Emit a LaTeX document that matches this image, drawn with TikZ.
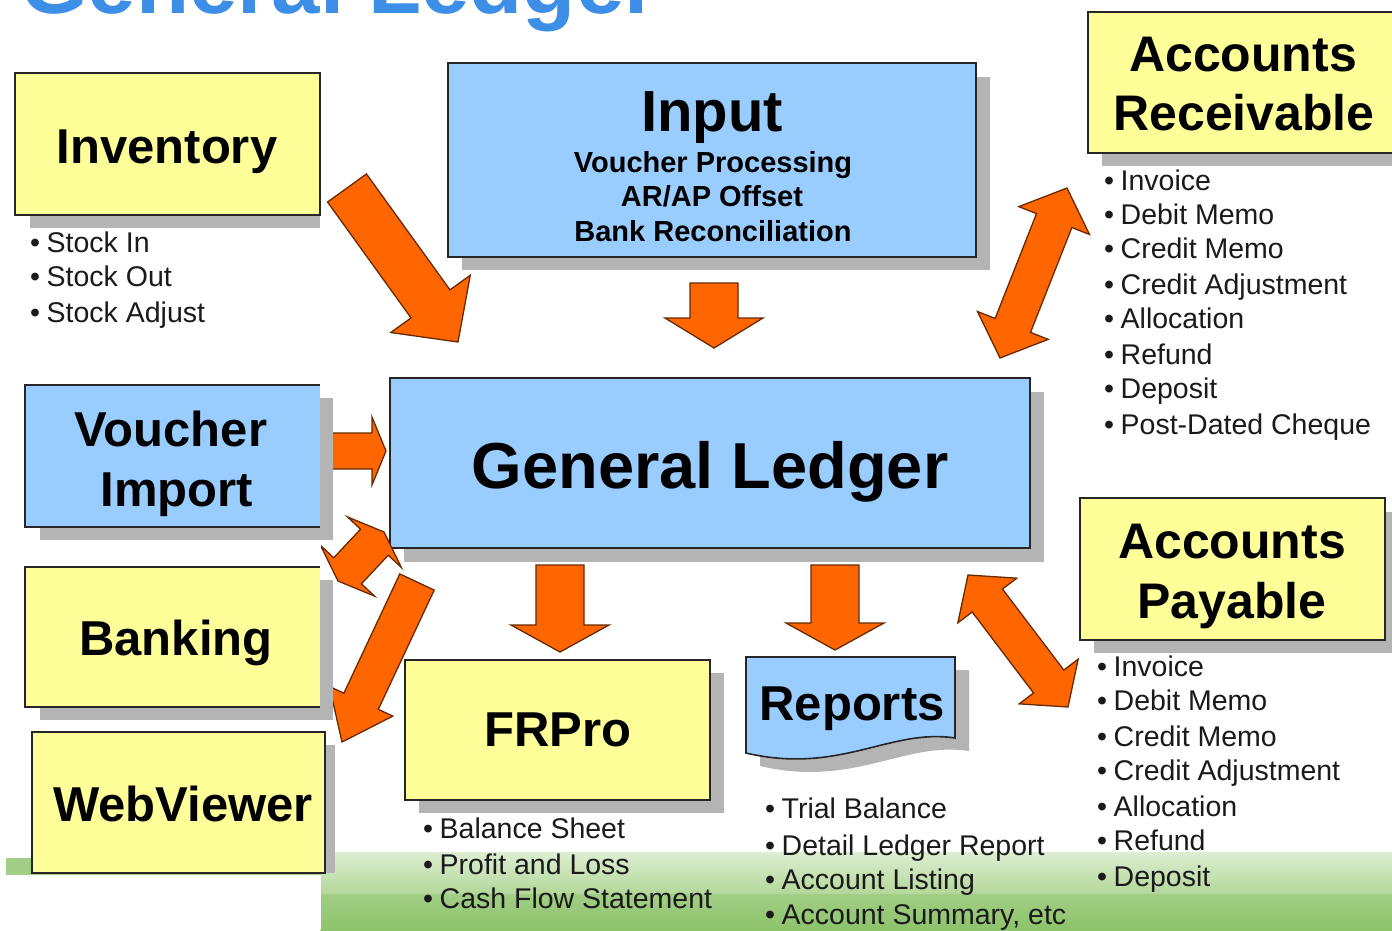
\documentclass[tikz,border=0pt]{standalone}
\usepackage{fontspec}
\setmainfont{Liberation Sans}
\usetikzlibrary{calc}
\definecolor{ylw}{HTML}{FFFF99}
\definecolor{blu}{HTML}{99CCFF}
\definecolor{org}{HTML}{FF6600}
\definecolor{shd}{HTML}{B4B4B4}
\definecolor{ttl}{HTML}{3D8EE6}
\definecolor{grnA}{HTML}{DDEED2}
\definecolor{grnB}{HTML}{B3D79A}
\definecolor{grnC}{HTML}{A2CE85}
\definecolor{grnD}{HTML}{8DC36B}
\definecolor{txt}{HTML}{1A1A1A}
\tikzset{
  boxline/.style={draw=black!85, line width=1.6pt},
  ybox/.style={boxline, fill=ylw, inner sep=0pt},
  bbox/.style={boxline, fill=blu, inner sep=0pt},
  yfill/.style={fill=ylw, draw=none, inner sep=0pt},
  bfill/.style={fill=blu, draw=none, inner sep=0pt},
  shadowfill/.style={fill=shd, draw=none},
  bigarrow/.style={fill=org, draw=black!60!org, line width=1.3pt, line join=miter},
  ttlA/.style={font=\fontsize{49}{49}\selectfont\bfseries, text=black, inner sep=0pt, anchor=base},
  item/.style={font=\fontsize{28.5}{28.5}\selectfont, text=txt, inner sep=0pt, anchor=base west},
}
\newcommand{\blockarr}[5]{%
  \coordinate (ba-h) at ($(#2)!#5!(#1)$);
  \draw[bigarrow] ($(#1)!#3!90:(#2)$) -- ($(ba-h)!#3!90:(#2)$) -- ($(ba-h)!#4!90:(#2)$) -- (#2)
    -- ($(ba-h)!#4!-90:(#2)$) -- ($(ba-h)!#3!-90:(#2)$) -- ($(#1)!#3!-90:(#2)$) -- cycle;}
\newcommand{\dblarr}[5]{%
  \coordinate (da-a) at ($(#1)!#5!(#2)$);
  \coordinate (da-b) at ($(#2)!#5!(#1)$);
  \draw[bigarrow] (#1) -- ($(da-a)!#4!90:(#2)$) -- ($(da-a)!#3!90:(#2)$) -- ($(da-b)!#3!90:(#2)$)
    -- ($(da-b)!#4!90:(#2)$) -- (#2) -- ($(da-b)!#4!-90:(#2)$) -- ($(da-b)!#3!-90:(#2)$)
    -- ($(da-a)!#3!-90:(#2)$) -- ($(da-a)!#4!-90:(#2)$) -- cycle;}
\newcommand{\bul}{•\hspace{6.5pt}}
\begin{document}
\begin{tikzpicture}[x=1pt,y=-1pt]
\useasboundingbox (0,0) rectangle (1392,930);
\fill[white] (0,0) rectangle (1392,930);
\clip (0,0) rectangle (1392,930);
% title (cut at top)
\node[font=\fontsize{87}{87}\selectfont\bfseries, text=ttl, inner sep=0pt, anchor=base west] (title) at (20,13) {General Ledger};
% green band (right part)
\shade[top color=grnA, bottom color=grnB] (320,852) rectangle (1392,894);
\shade[top color=grnC, bottom color=grnD] (320,894) rectangle (1392,930);
% ---- right part boxes
% Input
\fill[shadowfill] (462,77) rectangle (990,270);
\node[bbox, minimum width=528pt, minimum height=194pt] (input) at (712,160) {};
% General Ledger
\fill[shadowfill] (404,392) rectangle (1044,562);
\node[bbox, minimum width=640pt, minimum height=170pt] (gl) at (710,463) {};
% Accounts Receivable
\fill[shadowfill] (1102,26) rectangle (1400,166);
\node[ybox, minimum width=312pt, minimum height=141pt] (ar) at (1244,82.5) {};
% Accounts Payable
\fill[shadowfill] (1094,512) rectangle (1399,653);
\node[ybox, minimum width=305pt, minimum height=142pt] (ap) at (1232.5,569) {};
% FRPro
\fill[shadowfill] (419,673) rectangle (724,813);
\node[ybox, minimum width=305pt, minimum height=140pt] (fr) at (557.5,730) {};
% Reports (document shape)
\fill[shadowfill] (760,670) -- (969,670) -- (969,751) .. controls (904,741) and (854,788) .. (760,766) -- cycle;
\draw[boxline, fill=blu] (746,657) -- (955,657) -- (955,738) .. controls (890,728) and (840,775) .. (746,753) -- cycle;
\node[inner sep=0pt] (rep) at (850,700) {};
% ---- arrows
\coordinate (a1t) at (347,188);  \coordinate (a1h) at (458,342);
\coordinate (a2t) at (714,283);  \coordinate (a2h) at (714,348);
\coordinate (a3t) at (328,451);  \coordinate (a3h) at (386,451);
\coordinate (a4a) at (338,581);  \coordinate (a4b) at (384,532);
\coordinate (a5t) at (417,582);  \coordinate (a5h) at (342,742);
\coordinate (a6t) at (560,565);  \coordinate (a6h) at (560,652);
\coordinate (a7t) at (835,565);  \coordinate (a7h) at (835,650);
\coordinate (a8a) at (1000,358); \coordinate (a8b) at (1067,188);
\coordinate (a9a) at (968,575);  \coordinate (a9b) at (1068,707);
\blockarr{a1t}{a1h}{24pt}{49pt}{47pt}
\blockarr{a2t}{a2h}{24pt}{49pt}{30pt}
\blockarr{a3t}{a3h}{18pt}{34pt}{14pt}
\dblarr{a4a}{a4b}{19pt}{37pt}{14pt}
\blockarr{a5t}{a5h}{19pt}{35pt}{45pt}
\blockarr{a6t}{a6h}{24pt}{49pt}{27pt}
\blockarr{a7t}{a7h}{24pt}{49pt}{27pt}
\dblarr{a8a}{a8b}{19pt}{38pt}{35pt}
\dblarr{a9a}{a9b}{19pt}{37pt}{32pt}
% ---- left column (overlaid part)
\fill[white] (0,375) rectangle (321,930);
\fill[grnC] (6,858) rectangle (321,875);
% Inventory
\fill[shadowfill] (30,86) rectangle (320,228);
\node[ybox, minimum width=305pt, minimum height=142pt] (inv) at (167.5,144) {};
% Voucher Import
\fill[shadowfill] (40,398) rectangle (333,540);
\node[bfill, minimum width=295pt, minimum height=142pt] (vi) at (172.5,456) {};
\draw[boxline] (vi.north east) -- (vi.north west) -- (vi.south west) -- (vi.south east);
% Banking
\fill[shadowfill] (40,580) rectangle (333,720);
\node[yfill, minimum width=295pt, minimum height=140pt] (bk) at (172.5,637) {};
\draw[boxline] (bk.north east) -- (bk.north west) -- (bk.south west) -- (bk.south east);
% WebViewer
\fill[shadowfill] (47,745) rectangle (335,873);
\node[ybox, minimum width=293pt, minimum height=141pt] (wv) at (178.5,802.5) {};
% ---- titles
\node[ttlA] (tinv) at (167,163) {Inventory};
\node[ttlA, font=\fontsize{58}{58}\selectfont\bfseries] (tin) at (712,131) {Input};
\node[ttlA, font=\fontsize{29}{29}\selectfont\bfseries] (tin1) at (713,172) {Voucher Processing};
\node[ttlA, font=\fontsize{29}{29}\selectfont\bfseries] (tin2) at (712,206) {AR/AP Offset};
\node[ttlA, font=\fontsize{29}{29}\selectfont\bfseries] (tin3) at (713,241) {Bank Reconciliation};
\node[ttlA, font=\fontsize{50}{50}\selectfont\bfseries] (tar1) at (1243,71) {Accounts};
\node[ttlA, font=\fontsize{50}{50}\selectfont\bfseries] (tar2) at (1244,130) {Receivable};
\node[ttlA] (tvi1) at (171,446) {Voucher};
\node[ttlA] (tvi2) at (177,506) {Import};
\node[ttlA, font=\fontsize{65}{65}\selectfont\bfseries] (tgl) at (710,488) {General Ledger};
\node[ttlA] (tbk) at (176,655) {Banking};
\node[ttlA] (twv) at (183,821) {WebViewer};
\node[ttlA] (tfr) at (558,746) {FRPro};
\node[ttlA] (trep) at (852,720) {Reports};
\node[ttlA, font=\fontsize{50}{50}\selectfont\bfseries] (tap1) at (1232,558) {Accounts};
\node[ttlA, font=\fontsize{50}{50}\selectfont\bfseries] (tap2) at (1232,618) {Payable};
% ---- bullet lists
\node[item] (i1) at (30,252) {\bul Stock In};
\node[item] (i2) at (30,286) {\bul Stock Out};
\node[item] (i3) at (30,322) {\bul Stock Adjust};
\node[item] (r1) at (1104,190) {\bul Invoice};
\node[item] (r2) at (1104,224) {\bul Debit Memo};
\node[item] (r3) at (1104,258) {\bul Credit Memo};
\node[item] (r4) at (1104,294) {\bul Credit Adjustment};
\node[item] (r5) at (1104,328) {\bul Allocation};
\node[item] (r6) at (1104,364) {\bul Refund};
\node[item] (r7) at (1104,398) {\bul Deposit};
\node[item] (r8) at (1104,434) {\bul Post-Dated Cheque};
\node[item] (p1) at (1097,676) {\bul Invoice};
\node[item] (p2) at (1097,710) {\bul Debit Memo};
\node[item] (p3) at (1097,746) {\bul Credit Memo};
\node[item] (p4) at (1097,780) {\bul Credit Adjustment};
\node[item] (p5) at (1097,816) {\bul Allocation};
\node[item] (p6) at (1097,850) {\bul Refund};
\node[item] (p7) at (1097,886) {\bul Deposit};
\node[item] (f1) at (423,838) {\bul Balance Sheet};
\node[item] (f2) at (423,874) {\bul Profit and Loss};
\node[item] (f3) at (423,908) {\bul Cash Flow Statement};
\node[item] (e1) at (765,818) {\bul Trial Balance};
\node[item] (e2) at (765,855) {\bul Detail Ledger Report};
\node[item] (e3) at (765,889) {\bul Account Listing};
\node[item] (e4) at (765,924) {\bul Account Summary, etc};
\end{tikzpicture}
\end{document}
